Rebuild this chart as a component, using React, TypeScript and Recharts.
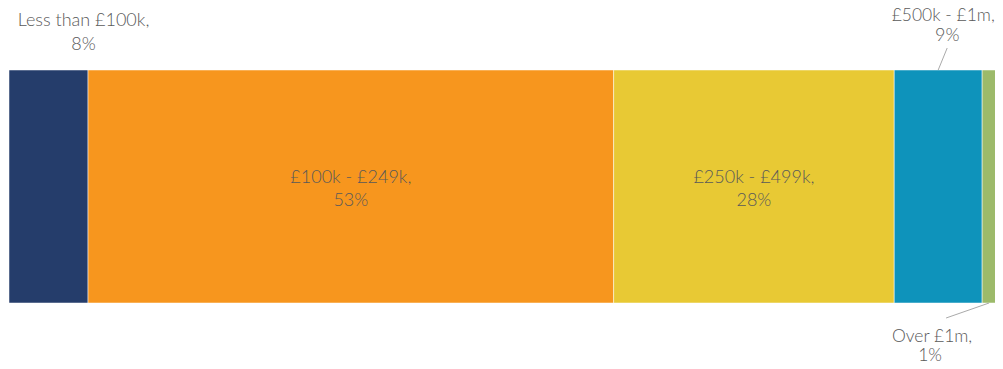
import { BarChart, Bar, XAxis, YAxis, LabelList } from 'recharts'

const bands = ['Less than £100k', '£100k - £249k', '£250k - £499k', '£500k - £1m', 'Over £1m']
const shares = [8.0, 53.2, 28.4, 8.9, 1.4]
const colors = ['#253d6b', '#f7961e', '#e8c934', '#0e93bb', '#9cba6a']

const keys = bands.map((_, i) => `s${i}`)
const row: Record<string, string | number> = { name: 'all' }
keys.forEach((k, i) => { row[k] = shares[i] })
const data = [row]

const TEXT = '#595959'
const total = shares.reduce((s, v) => s + v, 0)

function makeLabel(i: number) {
  return (props: any) => {
    const { x, y, width, height } = props
    const cx = x + width / 2
    const top = y
    const bottom = y + height
    const line1 = `${bands[i]},`
    const line2 = `${Math.round(shares[i])}%`
    const common = { fill: TEXT, fontSize: 18, fontWeight: 300, textAnchor: 'middle' as const }

    if (i === 0) {
      const tx = cx + 35
      return (
        <g>
          <text x={tx} y={top - 44} {...common}>{line1}</text>
          <text x={tx} y={top - 20} {...common}>{line2}</text>
        </g>
      )
    }
    if (i === 3) {
      const tx = cx + 5
      return (
        <g>
          <line x1={cx} y1={top} x2={cx + 9} y2={top - 22} stroke="#aaaaaa" />
          <text x={tx} y={top - 49} {...common} fontSize={17.5}>{line1}</text>
          <text x={tx + 4} y={top - 29} {...common}>{line2}</text>
        </g>
      )
    }
    if (i === 4) {
      const tx = cx - 57
      return (
        <g>
          <line x1={cx} y1={bottom} x2={cx - 43} y2={bottom + 15} stroke="#aaaaaa" />
          <text x={tx} y={bottom + 39} {...common} fontSize={17.5}>{line1}</text>
          <text x={tx - 2} y={bottom + 58} {...common} fontSize={17.5}>{line2}</text>
        </g>
      )
    }
    const my = y + height / 2
    return (
      <g>
        <text x={cx} y={my - 4} {...common}>{line1}</text>
        <text x={cx} y={my + 19} {...common}>{line2}</text>
      </g>
    )
  }
}

export default function App() {
  return (
    <div style={{ width: 1003, height: 369, margin: -8, overflow: 'hidden', fontFamily: 'Lato, sans-serif' }}>
      <BarChart
        width={1003}
        height={369}
        data={data}
        layout="vertical"
        margin={{ top: 70, right: 7, bottom: 66, left: 9 }}
        barCategoryGap={0}
      >
        <XAxis type="number" domain={[0, total]} hide />
        <YAxis type="category" dataKey="name" hide />
        {keys.map((k, i) => (
          <Bar key={k} dataKey={k} stackId="a" fill={colors[i]} stroke="#ffffff" strokeWidth={0.5} isAnimationActive={false}>
            <LabelList dataKey={k} content={makeLabel(i)} />
          </Bar>
        ))}
      </BarChart>
    </div>
  )
}
